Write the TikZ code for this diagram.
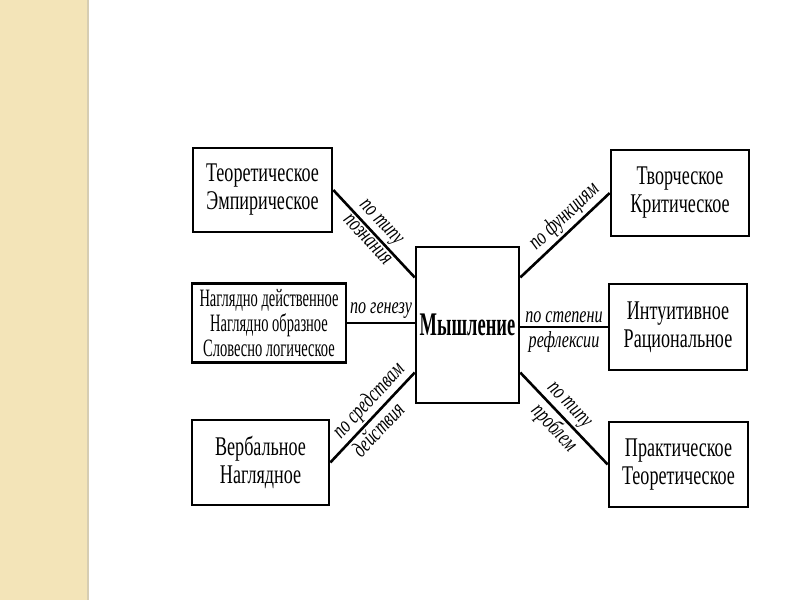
\documentclass[tikz,border=0pt]{standalone}
\usepackage{fontspec}
\usetikzlibrary{calc}
\setmainfont{Liberation Serif}
\newfontfamily\boxfont[FakeStretch=0.67]{Liberation Serif}
\newfontfamily\mlfont[FakeStretch=0.58]{Liberation Serif}
\newfontfamily\labfont[FakeStretch=0.7]{Liberation Serif}
\newfontfamily\centfont[FakeStretch=0.56]{Liberation Serif}
\definecolor{beige}{RGB}{243,228,184}
\definecolor{beigeedge}{RGB}{214,205,178}
\tikzset{
  box/.style={draw=black, line width=2.6pt, align=center, inner sep=2pt,
    font=\boxfont\fontsize{27}{28}\selectfont},
  conn/.style={line width=2.6pt},
  lab/.style={sloped, inner sep=2pt, font=\labfont\itshape\fontsize{23}{22}\selectfont},
  hlab/.style={inner sep=3pt, font=\labfont\itshape\fontsize{23}{24}\selectfont}
}
\begin{document}
\begin{tikzpicture}[x=1pt,y=-1pt]
\fill[beige] (0,0) rectangle (87,600);
\fill[beigeedge] (87,0) rectangle (89,600);
\useasboundingbox (0,0) rectangle (800,600);

\node[box, minimum width=139pt, minimum height=84pt] (tl) at (262.5,190) {Теоретическое\\Эмпирическое};
\node[box, minimum width=154pt, minimum height=79pt, font=\mlfont\fontsize{25}{25}\selectfont] (ml) at (269,323) {Наглядно действенное\\Наглядно образное\\Словесно логическое};
\node[box, minimum width=137pt, minimum height=85pt] (bl) at (260.5,462.5) {Вербальное\\Наглядное};
\node[box, minimum width=103pt, minimum height=156pt, font=\centfont\bfseries\fontsize{33}{33}\selectfont] (c) at (467.5,325) {Мышление};
\node[box, minimum width=138pt, minimum height=86pt] (tr) at (680,193) {Творческое\\Критическое};
\node[box, minimum width=138pt, minimum height=86pt] (mr) at (678,327) {Интуитивное\\Рациональное};
\node[box, minimum width=139pt, minimum height=85pt] (br) at (678.5,464.5) {Практическое\\Теоретическое};

\coordinate (cl1) at ($(c.north west)!0.2!(c.south west)$);
\coordinate (cl2) at ($(c.north west)!0.8!(c.south west)$);
\coordinate (cr1) at ($(c.north east)!0.2!(c.south east)$);
\coordinate (cr2) at ($(c.north east)!0.8!(c.south east)$);

\draw[conn] (tl.east) -- node[lab, above, pos=0.47] {по типу} node[lab, below, pos=0.5] {познания} (cl1);
\draw[conn] (ml.east) -- node[hlab, above] {по генезу} (ml.east -| c.west);
\draw[conn] (bl.east) -- node[lab, above, pos=0.58] {по средствам} node[lab, below, pos=0.46] {действия} (cl2);
\draw[conn] (cr1) -- node[lab, above, pos=0.6] {по функциям} (tr.west);
\draw[conn] (c.east |- mr.west) -- node[hlab, above] {по степени} node[hlab, below] {рефлексии} (mr.west);
\draw[conn] (cr2) -- node[lab, above, pos=0.45] {по типу} node[lab, below, pos=0.5] {проблем} (br.west);
\end{tikzpicture}
\end{document}
